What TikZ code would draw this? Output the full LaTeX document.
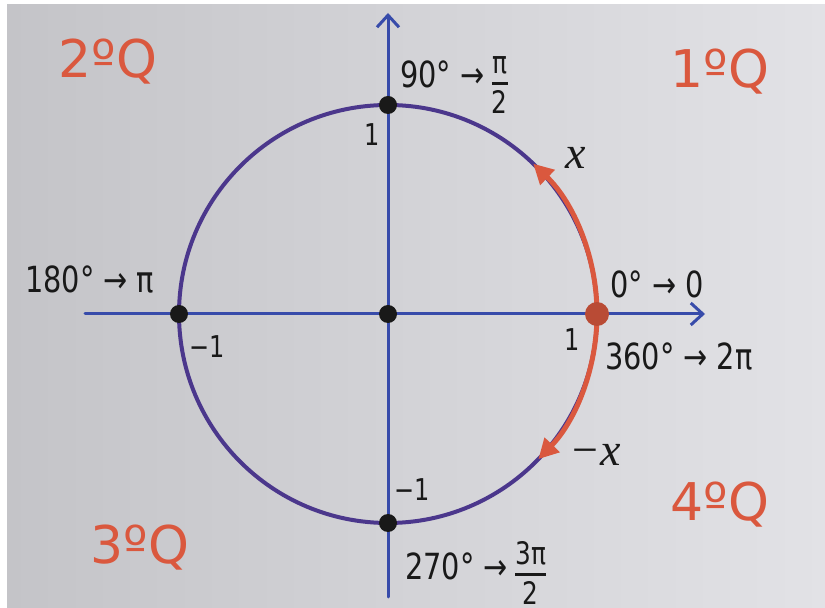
\documentclass[tikz,border=0pt]{standalone}
\usepackage{fontspec}
\setmainfont{DejaVu Sans}
\newfontfamily\hand[FakeStretch=0.8]{DejaVu Sans}
\newfontfamily\serifit{Liberation Serif}
\usetikzlibrary{arrows.meta}
\definecolor{boardL}{RGB}{196,196,200}
\definecolor{boardR}{RGB}{226,226,230}
\definecolor{axisblue}{RGB}{55,75,170}
\definecolor{circblue}{RGB}{75,55,140}
\definecolor{redpen}{RGB}{218,88,62}
\definecolor{ink}{RGB}{25,25,25}
\newcommand{\hfr}[2]{\setlength{\arrayrulewidth}{2.5pt}\renewcommand{\arraystretch}{0.8}\begin{tabular}[c]{@{}c@{}}#1\\[1pt]\hline\rule{0pt}{29pt}#2\end{tabular}}
\begin{document}
\begin{tikzpicture}[x=1pt,y=1pt,
  axis/.style={draw=axisblue,line width=3pt,line cap=round},
  axtip/.style={-{Straight Barb[length=12pt,width=22pt,line width=3pt]}},
  circ/.style={draw=circblue,line width=4pt},
  redarc/.style={draw=redpen,line width=5pt,-{Triangle[length=20pt,width=20pt]}},
  dot/.style={circle,fill=ink,inner sep=0pt,minimum size=18pt},
  reddot/.style={circle,fill=redpen!85!black,inner sep=0pt,minimum size=24pt},
  quad/.style={text=redpen,font=\fontsize{52}{56}\selectfont},
  lab/.style={text=ink,font=\hand\fontsize{36}{40}\selectfont,inner sep=0pt},
  frac/.style={text=ink,font=\hand\fontsize{31}{34}\selectfont,inner sep=0pt,anchor=west},
  small/.style={text=ink,font=\hand\fontsize{30}{34}\selectfont,inner sep=0pt},
  xlab/.style={text=ink,font=\serifit\itshape\fontsize{46}{50}\selectfont,inner sep=0pt}]
\useasboundingbox (0,0) rectangle (825,608);
\fill[white] (0,0) rectangle (825,608);
\shade[left color=boardL,right color=boardR] (7,0) rectangle (825,603);

\coordinate (O) at (388,294);
\coordinate (axL) at (85,294);
\coordinate (axR) at (705,294);
\coordinate (ayB) at (388,11);
\coordinate (ayT) at (388,595);
\coordinate (arcS) at (597,294);

\draw[axis,axtip] (axL) -- (axR);
\draw[axis,axtip] (ayB) -- (ayT);
\draw[circ] (O) circle[radius=209pt];
\draw[redarc] (arcS) arc[start angle=0,end angle=46,radius=209pt];
\draw[redarc] (arcS) arc[start angle=0,end angle=-44,radius=209pt];

\node[dot] (T) at (388,503) {};
\node[dot] (L) at (179,294) {};
\node[dot] (C) at (O) {};
\node[dot] (B) at (388,85) {};
\node[reddot] (R) at (arcS) {};

\node[quad] (q2) at (108,546) {2ºQ};
\node[quad] (q1) at (720,536) {1ºQ};
\node[quad] (q3) at (140,60) {3ºQ};
\node[quad] (q4) at (720,103) {4ºQ};

\node[lab,anchor=base west] (a90) at (400,520) {90° →};
\node[frac] (f90) at ([xshift=7pt,yshift=0pt]a90.base east) {\hfr{π}{2}};
\node[lab,anchor=base west] (a180) at (25,315) {180° → π};
\node[lab,anchor=base west] (a0) at (610,310) {0° → 0};
\node[lab,anchor=base west] (a360) at (605,238) {360° → 2π};
\node[lab,anchor=base west] (a270) at (405,28) {270° →};
\node[frac] (f270) at ([xshift=7pt,yshift=3pt]a270.base east) {\hfr{3π}{2}};

\node[small] (one1) at (372,473) {1};
\node[small] (m1l) at (207,261) {−1};
\node[small] (one2) at (572,268) {1};
\node[small] (m1b) at (412,118) {−1};

\node[xlab] (xl) at (576,450) {x};
\node[xlab] (mxl) at (595,153) {−x};
\end{tikzpicture}
\end{document}
